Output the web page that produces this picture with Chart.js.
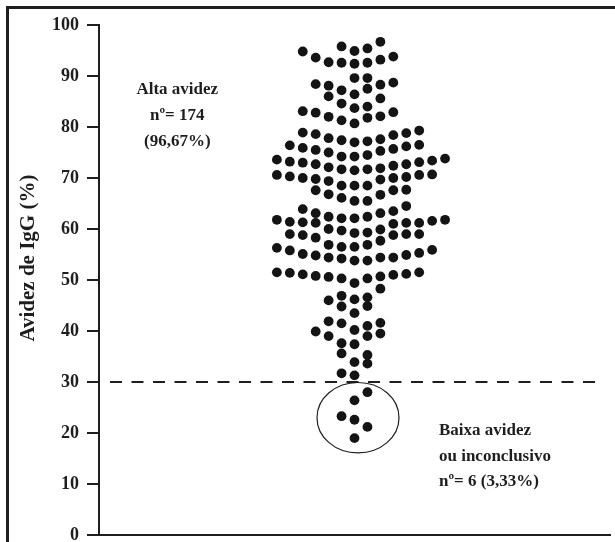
<!DOCTYPE html>
<html>
<head>
<meta charset="utf-8">
<script src="https://cdn.jsdelivr.net/npm/chart.js@4"></script>
<style>
  html, body { margin: 0; padding: 0; background: #fff; }
  #wrap { position: relative; width: 615px; height: 542px; }
  #frame { position: absolute; left: 6px; top: 6px; right: 0; bottom: 0;
           border-left: 3px solid #1e1e1e; border-top: 3px solid #1e1e1e; pointer-events: none; }
  canvas { position: absolute; left: 0; top: 0; }
</style>
</head>
<body>
<div id="wrap">
  <canvas id="chart" width="615" height="542"></canvas>
  <div id="frame"></div>
</div>
<script>
// avidez (%) por coluna do gráfico de pontos (coluna 0 = centro)
const colM6 = [73.6, 70.6, 61.8, 56.3, 51.5];
const colM5 = [76.4, 73.2, 70.3, 61.4, 59.0, 55.8, 51.4];
const colM4 = [94.8, 83.1, 78.9, 75.9, 73.0, 70.0, 63.9, 61.3, 58.8, 55.1, 51.1];
const colM3 = [93.6, 88.4, 82.8, 78.6, 75.5, 72.7, 69.8, 67.6, 63.1, 61.2, 58.3, 54.8, 50.8, 39.9];
const colM2 = [92.7, 88.1, 86.0, 82.0, 77.8, 75.0, 72.1, 69.4, 66.8, 62.4, 60.0, 56.9, 54.4, 50.6, 46.0, 41.9, 39.0];
const colM1 = [95.8, 92.6, 87.2, 84.6, 81.3, 77.4, 74.2, 71.7, 68.5, 66.1, 62.1, 59.7, 56.5, 54.2, 50.3, 46.9, 44.8, 41.5, 37.6, 35.6, 31.7];
const col0  = [94.9, 92.4, 89.6, 86.4, 83.7, 80.7, 77.0, 74.2, 71.5, 68.5, 65.5, 62.1, 59.2, 56.5, 53.8, 49.4, 46.2, 43.5, 40.2, 37.4, 33.9, 31.3];
const colP1 = [95.4, 92.6, 89.6, 87.5, 84.0, 81.8, 77.2, 74.5, 71.7, 68.5, 65.5, 62.4, 59.3, 56.9, 53.8, 50.3, 46.6, 44.9, 41.0, 39.0, 35.3, 33.6];
const colP2 = [96.7, 93.2, 88.3, 85.6, 82.1, 77.6, 75.3, 71.9, 69.7, 66.7, 63.1, 59.9, 57.7, 54.4, 50.7, 48.3, 41.6, 39.5];
const colP3 = [93.8, 88.7, 82.9, 78.4, 75.7, 72.4, 70.0, 67.6, 63.5, 61.0, 58.8, 54.4, 51.0];
const colP4 = [78.8, 76.2, 72.7, 70.2, 67.7, 64.5, 61.2, 59.0, 54.9, 51.2];
const colP5 = [79.3, 76.5, 73.1, 70.6, 61.2, 59.0, 55.3, 51.5];
const colP6 = [73.4, 70.7, 61.6, 55.9];
const colP7 = [73.8, 61.8];
const highCols = [colM6, colM5, colM4, colM3, colM2, colM1, col0, colP1, colP2, colP3, colP4, colP5, colP6, colP7];
const highColIndex = [-6, -5, -4, -3, -2, -1, 0, 1, 2, 3, 4, 5, 6, 7];

// baixa avidez ou inconclusivo
const lowCol = [1, 0, -1, 0, 1, 0];
const lowVal = [28.0, 26.4, 23.3, 22.6, 21.2, 19.0];

const cutoff = 30;
const altaLines = ["Alta avidez", "nº= 174", "(96,67%)"];
const baixaLines = ["Baixa avidez", "ou inconclusivo", "nº= 6 (3,33%)"];
const yTitle = "Avidez de IgG (%)";

const ink = "#1e1e1e";
const serif = "'Liberation Serif', 'Times New Roman', serif";

const points = [];
highCols.forEach((vals, i) => vals.forEach(v => points.push({ x: highColIndex[i], y: v })));
lowVal.forEach((v, i) => points.push({ x: lowCol[i], y: v }));

const overlay = {
  id: "overlay",
  afterDatasetsDraw(chart) {
    const { ctx, scales: { x, y } } = chart;
    ctx.save();
    // linha de corte
    const yc = y.getPixelForValue(cutoff);
    ctx.strokeStyle = ink;
    ctx.lineWidth = 2;
    ctx.setLineDash([12, 9.5]);
    ctx.beginPath();
    ctx.moveTo(x.getPixelForValue(-18.9), yc);
    ctx.lineTo(x.getPixelForValue(19.0), yc);
    ctx.stroke();
    ctx.setLineDash([]);

    // elipse em volta dos 6 casos
    const cx = x.getPixelForValue(0.27), cy = y.getPixelForValue(23.0);
    const rx = x.getPixelForValue(3.17) - x.getPixelForValue(0);
    const ry = y.getPixelForValue(0) - y.getPixelForValue(6.9);
    ctx.lineWidth = 1.2;
    ctx.beginPath();
    ctx.ellipse(cx, cy, rx, ry, 0, 0, Math.PI * 2);
    ctx.stroke();

    // textos
    ctx.fillStyle = ink;
    ctx.font = "bold 17px " + serif;
    ctx.textBaseline = "middle";
    ctx.textAlign = "center";
    const ax = x.getPixelForValue(-13.7), ay = y.getPixelForValue(87.25);
    altaLines.forEach((t, i) => ctx.fillText(t, ax, ay + i * 26));
    ctx.textAlign = "left";
    const bx = x.getPixelForValue(6.53), by = y.getPixelForValue(20.4);
    baixaLines.forEach((t, i) => ctx.fillText(t, bx, by + i * 25.5));

    // título do eixo y
    ctx.translate(29, y.getPixelForValue(54.3));
    ctx.rotate(-Math.PI / 2);
    ctx.textAlign = "center";
    ctx.font = "bold 21px " + serif;
    ctx.fillText(yTitle, 0, 0);
    ctx.restore();
  }
};

new Chart(document.getElementById("chart"), {
  type: "scatter",
  data: {
    datasets: [{
      data: points,
      backgroundColor: "#141414",
      borderWidth: 0,
      pointRadius: 4.9,
      pointHoverRadius: 4.9
    }]
  },
  options: {
    responsive: false,
    animation: false,
    layout: { padding: { left: 0, top: 25, right: 5, bottom: 7 } },
    plugins: { legend: { display: false }, tooltip: { enabled: false } },
    scales: {
      x: {
        type: "linear",
        min: -19.75,
        max: 19.75,
        ticks: { display: false },
        grid: { display: false },
        border: { display: true, color: ink, width: 2 },
        afterFit(s) { s.height = 0; }
      },
      y: {
        min: 0,
        max: 100,
        ticks: {
          stepSize: 10,
          padding: 8,
          color: ink,
          font: { family: serif, size: 18, weight: "bold" }
        },
        grid: { drawOnChartArea: false, drawTicks: true, tickLength: 12, lineWidth: 2, color: ink },
        border: { display: true, color: ink, width: 2 },
        afterFit(s) { s.width = 99; s.paddingTop = 0; s.paddingBottom = 0; }
      }
    }
  },
  plugins: [overlay]
});
</script>
</body>
</html>
